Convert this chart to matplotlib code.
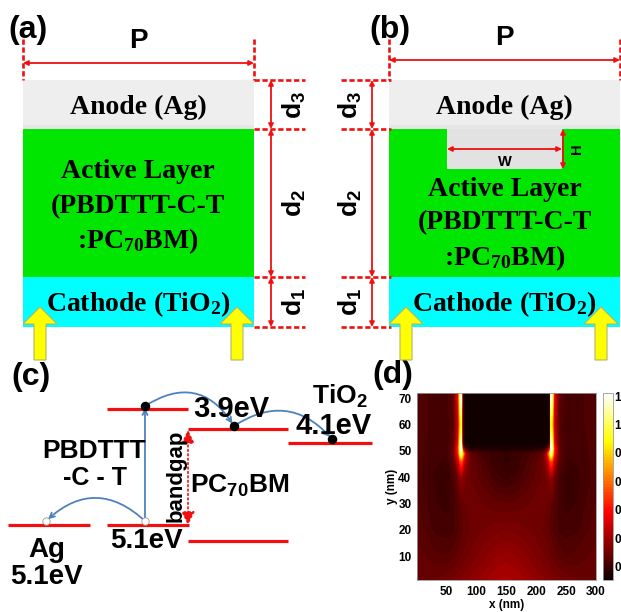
import numpy as np
import matplotlib
matplotlib.use("Agg")
import matplotlib.pyplot as plt
from matplotlib.patches import Rectangle, Polygon, FancyArrowPatch

plt.rcParams["mathtext.default"] = "regular"

SANS = "Liberation Sans"
SERIF = "Liberation Serif"
RED = "#f01010"
BLUE = "#4f81bd"

# field map (d), left half of the period
field_x = [1, 30, 50, 62, 70, 73, 75, 77, 82, 90, 110, 130, 150]
field_y = [1, 10, 20, 30, 40, 46, 49, 51, 53, 60, 70, 72]
field_half = [
    [.14, .14, .15, .16, .17, .17, .17, .18, .18, .19, .21, .23, .24],
    [.13, .115, .11, .12, .13, .135, .14, .14, .15, .16, .18, .20, .21],
    [.12, .09, .085, .09, .105, .11, .115, .12, .13, .14, .155, .165, .17],
    [.11, .08, .07, .085, .11, .12, .125, .13, .14, .145, .14, .13, .125],
    [.10, .075, .06, .09, .15, .19, .20, .19, .16, .14, .115, .085, .07],
    [.10, .08, .075, .12, .28, .42, .47, .40, .22, .14, .10, .07, .06],
    [.10, .085, .08, .13, .40, .75, .90, .70, .25, .12, .09, .07, .06],
    [.10, .085, .08, .13, .42, .85, 1.0, .30, .06, .03, .02, .02, .02],
    [.10, .085, .08, .12, .35, .80, .95, .01, .01, .01, .01, .01, .01],
    [.10, .09, .08, .11, .28, .62, .75, .01, .01, .01, .01, .01, .01],
    [.10, .09, .085, .12, .35, .85, 1.0, .01, .01, .01, .01, .01, .01],
    [.10, .09, .085, .12, .35, .85, 1.0, .01, .01, .01, .01, .01, .01],
]
x_ticks = [50, 100, 150, 200, 250, 300]
y_ticks = [10, 20, 30, 40, 50, 60, 70]
cbar_ticks = [.07, .22, .375, .525, .68, .83, .98]
cbar_labels = ["0", "0", "0", "0", "0", "1", "1"]

# stack layers: name, top, bottom, colour (pixels of the picture)
layers = [("anode", 80, 125, "#eeeeee"), ("anode lip", 125, 129, "#e6e6e6"),
          ("active", 129, 277, "#00e600"), ("cathode", 277, 327, "#00ffff")]

# energy levels (c): x0, x1, y
levels = [(107, 188, 409), (107, 189, 525), (8, 90, 525), (188, 288, 429), (188, 288, 541), (288, 372, 443)]
electrons = [(145, 406), (234, 426), (332, 439)]
holes = [(145, 521), (46, 521)]

fig = plt.figure(figsize=(6.21, 6.12), dpi=100)
ax = fig.add_axes([0, 0, 1, 1])
ax.set_xlim(0, 621)
ax.set_ylim(612, 0)
ax.axis("off")


def label(x, y, s, size=18, family=SANS, rot=0):
    ax.text(x, y, s, fontsize=size, family=family, weight="bold", ha="center",
            va="center", rotation=rot, color="black", zorder=6)


def dash(x0, y0, x1, y1):
    ax.plot([x0, x1], [y0, y1], color=RED, lw=1.9, ls=(0, (2, 1)), zorder=4)


def double_arrow(x0, y0, x1, y1, lw=1.3, ms=7, ls="-"):
    ax.add_patch(FancyArrowPatch((x0, y0), (x1, y1), arrowstyle="<|-|>", mutation_scale=ms,
                                 color=RED, lw=lw, ls=ls, shrinkA=0, shrinkB=0, zorder=5))


def yellow_arrow(xc):
    pts = [(xc - 6, 360), (xc - 6, 324), (xc - 17, 324), (xc, 307),
           (xc + 17, 324), (xc + 6, 324), (xc + 6, 360)]
    ax.add_patch(Polygon(pts, closed=True, fc="#ffff00", ec="#b5b56a", lw=0.8, zorder=7))


def stack(left, right, dim_x, d_text_x, line_from, line_to, arrow_xs, p_y):
    for name, top, bottom, col in layers:
        ax.add_patch(Rectangle((left, top), right - left, bottom - top, fc=col, ec="none", zorder=1))
    xc = (left + right) / 2
    for xe in (left, right):
        dash(xe, 39, xe, 80)
    double_arrow(left, p_y, right, p_y)
    label(xc, p_y - 22, "P", 20)
    for y in (80, 129, 277, 327):
        dash(line_from, y, line_to, y)
    double_arrow(dim_x, 80, dim_x, 129)
    double_arrow(dim_x, 129, dim_x, 277)
    double_arrow(dim_x, 277, dim_x, 327)
    label(d_text_x, 105, "d$_3$", 19, rot=90)
    label(d_text_x, 203, "d$_2$", 19, rot=90)
    label(d_text_x, 302, "d$_1$", 19, rot=90)
    label(xc, 107, "Anode (Ag)", 20, SERIF)
    label(xc, 304, "Cathode (TiO$_2$)", 20, SERIF)
    for xa in arrow_xs:
        yellow_arrow(xa)


# (a)
stack(23, 254, 271, 294, 254, 305, [40, 237], 63)
label(28, 30, "(a)", 23)
label(138, 172, "Active Layer", 20, SERIF)
label(138, 207, "(PBDTTT-C-T", 20, SERIF)
label(138, 241, ":PC$_{70}$BM)", 20, SERIF)

# (b)
stack(389, 620, 372, 350, 341, 391, [406, 601], 60)
label(390, 30, "(b)", 23)
ax.add_patch(Rectangle((447, 129), 115, 40, fc="#e2e2e2", ec="none", zorder=2))
double_arrow(447, 149, 562, 149)
double_arrow(563, 129, 563, 169)
label(505, 162, "W", 10.5)
label(577, 149, "H", 10.5, rot=90)
label(505, 189, "Active Layer", 20, SERIF)
label(505, 223, "(PBDTTT-C-T", 20, SERIF)
label(505, 258, ":PC$_{70}$BM)", 20, SERIF)

# (c)
label(31, 377, "(c)", 23)
for x0, x1, y in levels:
    ax.plot([x0, x1], [y, y], color=RED, lw=2.3, solid_capstyle="butt", zorder=3)
for (x0, y0), (x1, y1), rad in [((145, 406), (234, 426), -0.5), ((234, 426), (332, 439), -0.43),
                                ((145, 521), (46, 521), 0.46)]:
    ax.add_patch(FancyArrowPatch((x0, y0), (x1, y1), connectionstyle=f"arc3,rad={rad}", arrowstyle="->",
                                 mutation_scale=9, color=BLUE, lw=1.3, shrinkA=0, shrinkB=2, zorder=4))
ax.add_patch(FancyArrowPatch((145, 521), (145, 408), arrowstyle="->", mutation_scale=9,
                             color=BLUE, lw=1.3, shrinkA=0, shrinkB=0, zorder=4))
ax.scatter(*zip(*electrons), s=34, color="black", zorder=5)
ax.scatter(*zip(*holes), s=28, facecolor="white", edgecolor="#999999", lw=0.6, zorder=5)
double_arrow(188, 430, 188, 525, lw=1.2, ms=20, ls=":")
label(176, 476, "bandgap", 16, rot=90)
label(240, 486, "PC$_{70}$BM", 19)
label(94, 451, "PBDTTT", 19)
label(95, 478, "-C - T", 18)
label(231, 409, "3.9eV", 21)
label(340, 396, "TiO$_2$", 19)
label(334, 426, "4.1eV", 21)
label(146, 541, "5.1eV", 20)
label(47, 550, "Ag", 20)
label(46, 577, "5.1eV", 20)
label(393, 375, "(d)", 23)

# (d)
W, H = 621.0, 612.0
ax_map = fig.add_axes([417 / W, 1 - 580 / H, 179 / W, 187 / H])
half = np.array(field_half)
xs = np.r_[field_x, 300 - np.array(field_x[-2::-1])]
zs = np.hstack([half, half[:, -2::-1]])
cs = ax_map.contourf(xs, field_y, zs, levels=np.linspace(0, 1.0, 65), cmap="hot")
ax_map.set_xlim(1, 300)
ax_map.set_ylim(1, 72)
ax_map.set_xticks(x_ticks)
ax_map.set_yticks(y_ticks)
ax_map.tick_params(length=0, pad=4, labelsize=8.5)
for t in ax_map.get_xticklabels() + ax_map.get_yticklabels():
    t.set_family(SANS)
    t.set_weight("bold")
ax_map.set_xlabel("x (nm)", fontsize=8.5, family=SANS, weight="bold", labelpad=1)
ax_map.set_ylabel("y (nm)", fontsize=8.5, family=SANS, weight="bold", labelpad=0)
for s in ax_map.spines.values():
    s.set_color("#999999")
    s.set_linewidth(0.6)

cax = fig.add_axes([603 / W, 1 - 580 / H, 10 / W, 187 / H])
cbar = fig.colorbar(cs, cax=cax)
cbar.set_ticks(cbar_ticks)
cbar.set_ticklabels(cbar_labels)
cbar.ax.tick_params(length=0, pad=1, labelsize=8.5)
for t in cbar.ax.get_yticklabels():
    t.set_family(SANS)
    t.set_weight("bold")
cbar.outline.set_edgecolor("#999999")
cbar.outline.set_linewidth(0.6)

fig.savefig("out.png", dpi=100)
